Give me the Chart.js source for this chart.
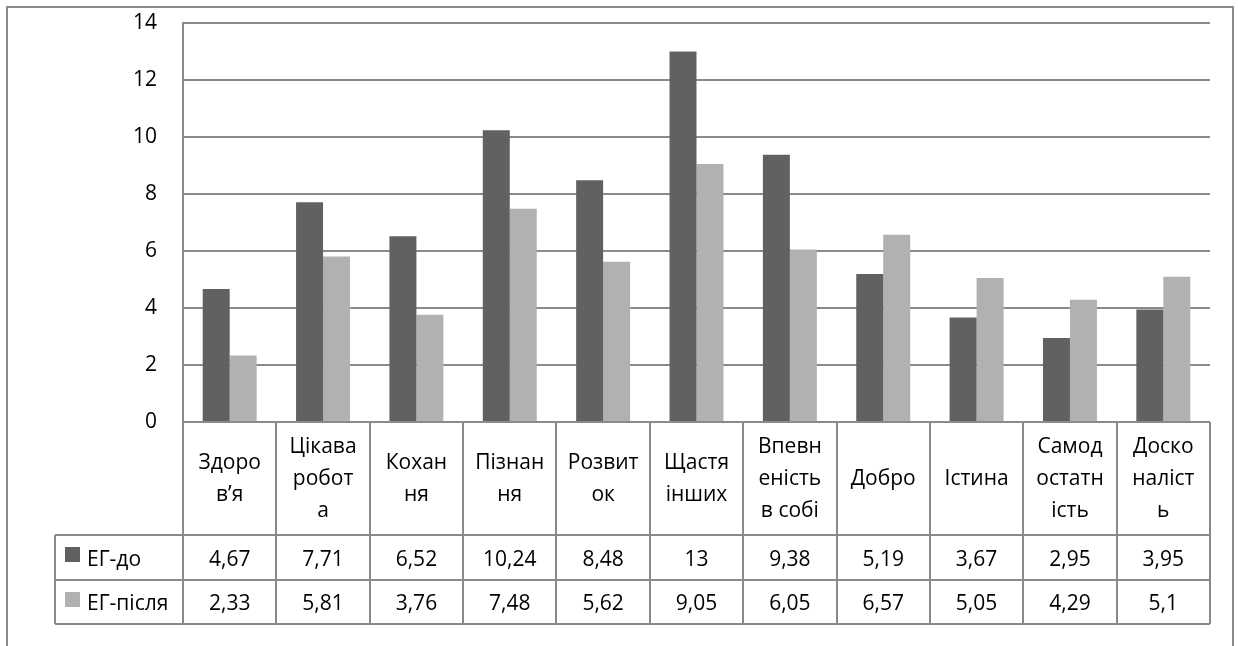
<!DOCTYPE html>
<html lang="uk">
<head>
<meta charset="utf-8">
<title>ЕГ-до / ЕГ-після</title>
<script src="https://cdn.jsdelivr.net/npm/chart.js@4.4.1/dist/chart.umd.min.js"></script>
<style>
  html, body { margin: 0; padding: 0; background: #ffffff; }
  #wrap { width: 1238px; height: 646px; }
</style>
</head>
<body>
<div id="wrap"><canvas id="chart" width="1238" height="646"></canvas></div>
<script>
// Category names, split into lines as they appear in the table header row
const categories = [
  ['Здоро', 'в’я'],
  ['Цікава', 'робот', 'а'],
  ['Кохан', 'ня'],
  ['Пізнан', 'ня'],
  ['Розвит', 'ок'],
  ['Щастя', 'інших'],
  ['Впевн', 'еність', 'в собі'],
  ['Добро'],
  ['Істина'],
  ['Самод', 'остатн', 'ість'],
  ['Доско', 'наліст', 'ь']
];
const seriesNames = ['ЕГ-до', 'ЕГ-після'];
const egBefore = [4.67, 7.71, 6.52, 10.24, 8.48, 13, 9.38, 5.19, 3.67, 2.95, 3.95];
const egAfter  = [2.33, 5.81, 3.76, 7.48, 5.62, 9.05, 6.05, 6.57, 5.05, 4.29, 5.1];
const yTicks = [0, 2, 4, 6, 8, 10, 12, 14];

const COLORS = ['#616161', '#b1b1b1'];
const LINE = '#8a8a8a';
const FONT = '"Open Sans", "Lato", sans-serif';
const FONT_SIZE = 21;

// Table geometry (below the plot area)
const HEADER_H = 113;   // category-name row
const ROW_H = 44.5;     // each series row
const LEGEND_LEFT = 55; // left edge of the series-name column
const HEADER_LINE_H = 32;

const fmt = v => String(v).replace('.', ',');

// Draws the data table under the plot and the outer frame
const dataTablePlugin = {
  id: 'dataTable',
  afterDraw(chart) {
    const { ctx, chartArea } = chart;
    const x = chart.scales.x;
    const left = chartArea.left, right = chartArea.right;
    const top = chartArea.bottom;
    const headerBottom = top + HEADER_H;
    const rowsBottom = headerBottom + ROW_H * seriesNames.length;
    const n = categories.length;
    const colW = (right - left) / n;

    ctx.save();
    ctx.strokeStyle = LINE;
    ctx.lineWidth = 2;

    // horizontal lines
    ctx.beginPath();
    ctx.moveTo(left, top); ctx.lineTo(right, top);
    for (let r = 0; r <= seriesNames.length; r++) {
      const y = Math.round(headerBottom + r * ROW_H);
      ctx.moveTo(LEGEND_LEFT, y); ctx.lineTo(right, y);
    }
    // vertical lines
    for (let i = 0; i <= n; i++) {
      const cx = Math.round(left + i * colW);
      ctx.moveTo(cx, top); ctx.lineTo(cx, rowsBottom);
    }
    ctx.moveTo(LEGEND_LEFT, headerBottom); ctx.lineTo(LEGEND_LEFT, rowsBottom);
    ctx.stroke();

    // header text (middle line sits on a fixed baseline)
    ctx.fillStyle = '#000';
    ctx.font = FONT_SIZE + 'px ' + FONT;
    ctx.textAlign = 'center';
    ctx.textBaseline = 'alphabetic';
    const midBaseline = top + 63;
    categories.forEach((lines, i) => {
      const cx = x.getPixelForValue(i);
      lines.forEach((t, k) => {
        const by = midBaseline + (k - (lines.length - 1) / 2) * HEADER_LINE_H;
        ctx.fillText(t, cx, by);
      });
    });

    // series rows
    const rows = [egBefore, egAfter];
    rows.forEach((vals, r) => {
      const rowTop = headerBottom + r * ROW_H;
      const by = rowTop + 30.5;
      // legend key + name
      ctx.fillStyle = COLORS[r];
      ctx.fillRect(65, Math.round(rowTop + 12), 15, 15);
      ctx.fillStyle = '#000';
      ctx.textAlign = 'left';
      ctx.fillText(seriesNames[r], 87, by);
      ctx.textAlign = 'center';
      vals.forEach((v, i) => ctx.fillText(fmt(v), x.getPixelForValue(i), by));
    });

    // outer frame
    ctx.beginPath();
    ctx.moveTo(7, 660); ctx.lineTo(7, 7); ctx.lineTo(1233, 7); ctx.lineTo(1233, 660);
    ctx.stroke();
    ctx.restore();
  }
};

Chart.defaults.font.family = FONT;
Chart.defaults.font.size = FONT_SIZE;
Chart.defaults.color = '#000';

new Chart(document.getElementById('chart'), {
  type: 'bar',
  data: {
    labels: categories,
    datasets: [
      { label: seriesNames[0], data: egBefore, backgroundColor: COLORS[0] },
      { label: seriesNames[1], data: egAfter, backgroundColor: COLORS[1] }
    ]
  },
  options: {
    responsive: false,
    animation: false,
    devicePixelRatio: 1,
    layout: { padding: { left: 0, top: 23, right: 28, bottom: 224 } },
    datasets: { bar: { categoryPercentage: 0.578, barPercentage: 1.0 } },
    plugins: { legend: { display: false }, tooltip: { enabled: false } },
    scales: {
      x: { display: false },
      y: {
        min: 0, max: 14,
        afterFit(scale) { scale.width = 183; },
        afterBuildTicks(scale) { scale.ticks = yTicks.map(v => ({ value: v })); },
        ticks: { padding: 0, color: '#000', font: { size: FONT_SIZE } },
        grid: { color: LINE, lineWidth: 2, drawTicks: true, tickLength: 26, tickColor: 'rgba(0,0,0,0)' },
        border: { display: true, color: LINE, width: 2 }
      }
    }
  },
  plugins: [dataTablePlugin]
});
</script>
</body>
</html>
